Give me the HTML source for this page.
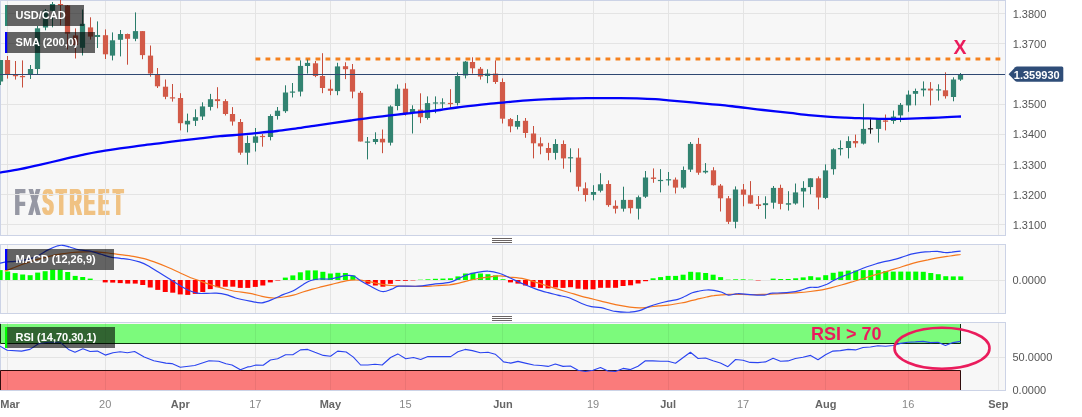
<!DOCTYPE html>
<html lang="en"><head><meta charset="utf-8"><title>USD/CAD</title>
<style>html,body{margin:0;padding:0;background:#fff;}body{width:1082px;height:417px;overflow:hidden;font-family:"Liberation Sans",Arial,sans-serif;}svg{display:block;}text{font-family:"Liberation Sans",Arial,sans-serif;}</style></head><body>
<svg width="1082" height="417" viewBox="0 0 1082 417">
<rect x="0" y="0" width="1082" height="417" fill="#ffffff"/>
<rect x="0.5" y="0.5" width="1005" height="235" fill="#f7f7f7" stroke="#ccd3e6" stroke-width="1"/>
<rect x="0.5" y="244.5" width="1005" height="69" fill="#f7f7f7" stroke="#ccd3e6" stroke-width="1"/>
<rect x="0.5" y="322.5" width="1005" height="68" fill="#f7f7f7" stroke="#ccd3e6" stroke-width="1"/>
<defs><filter id="fat" x="-5%" y="-5%" width="110%" height="110%"><feMorphology operator="dilate" radius="1 0"/></filter></defs>
<g filter="url(#fat)"><text transform="translate(0,215.4) scale(0.435,1)" x="34.38 66.77 97.88 129.31 160.26 193.14 226.13 260.23" y="0" font-size="37.6" font-weight="bold"><tspan fill="#9698a4">FX</tspan><tspan fill="#f0c283">STREET</tspan></text></g>
<line x1="7.5" y1="1" x2="7.5" y2="235" stroke="#e4e4e4" stroke-width="1"/>
<line x1="105.5" y1="1" x2="105.5" y2="235" stroke="#e4e4e4" stroke-width="1"/>
<line x1="180.5" y1="1" x2="180.5" y2="235" stroke="#e4e4e4" stroke-width="1"/>
<line x1="255.5" y1="1" x2="255.5" y2="235" stroke="#e4e4e4" stroke-width="1"/>
<line x1="330.5" y1="1" x2="330.5" y2="235" stroke="#e4e4e4" stroke-width="1"/>
<line x1="405.5" y1="1" x2="405.5" y2="235" stroke="#e4e4e4" stroke-width="1"/>
<line x1="502.5" y1="1" x2="502.5" y2="235" stroke="#e4e4e4" stroke-width="1"/>
<line x1="593.5" y1="1" x2="593.5" y2="235" stroke="#e4e4e4" stroke-width="1"/>
<line x1="668.5" y1="1" x2="668.5" y2="235" stroke="#e4e4e4" stroke-width="1"/>
<line x1="743.5" y1="1" x2="743.5" y2="235" stroke="#e4e4e4" stroke-width="1"/>
<line x1="825.5" y1="1" x2="825.5" y2="235" stroke="#e4e4e4" stroke-width="1"/>
<line x1="908.5" y1="1" x2="908.5" y2="235" stroke="#e4e4e4" stroke-width="1"/>
<line x1="998.5" y1="1" x2="998.5" y2="235" stroke="#e4e4e4" stroke-width="1"/>
<line x1="7.5" y1="245" x2="7.5" y2="313" stroke="#e4e4e4" stroke-width="1"/>
<line x1="105.5" y1="245" x2="105.5" y2="313" stroke="#e4e4e4" stroke-width="1"/>
<line x1="180.5" y1="245" x2="180.5" y2="313" stroke="#e4e4e4" stroke-width="1"/>
<line x1="255.5" y1="245" x2="255.5" y2="313" stroke="#e4e4e4" stroke-width="1"/>
<line x1="330.5" y1="245" x2="330.5" y2="313" stroke="#e4e4e4" stroke-width="1"/>
<line x1="405.5" y1="245" x2="405.5" y2="313" stroke="#e4e4e4" stroke-width="1"/>
<line x1="502.5" y1="245" x2="502.5" y2="313" stroke="#e4e4e4" stroke-width="1"/>
<line x1="593.5" y1="245" x2="593.5" y2="313" stroke="#e4e4e4" stroke-width="1"/>
<line x1="668.5" y1="245" x2="668.5" y2="313" stroke="#e4e4e4" stroke-width="1"/>
<line x1="743.5" y1="245" x2="743.5" y2="313" stroke="#e4e4e4" stroke-width="1"/>
<line x1="825.5" y1="245" x2="825.5" y2="313" stroke="#e4e4e4" stroke-width="1"/>
<line x1="908.5" y1="245" x2="908.5" y2="313" stroke="#e4e4e4" stroke-width="1"/>
<line x1="998.5" y1="245" x2="998.5" y2="313" stroke="#e4e4e4" stroke-width="1"/>
<line x1="7.5" y1="323" x2="7.5" y2="390" stroke="#e4e4e4" stroke-width="1"/>
<line x1="105.5" y1="323" x2="105.5" y2="390" stroke="#e4e4e4" stroke-width="1"/>
<line x1="180.5" y1="323" x2="180.5" y2="390" stroke="#e4e4e4" stroke-width="1"/>
<line x1="255.5" y1="323" x2="255.5" y2="390" stroke="#e4e4e4" stroke-width="1"/>
<line x1="330.5" y1="323" x2="330.5" y2="390" stroke="#e4e4e4" stroke-width="1"/>
<line x1="405.5" y1="323" x2="405.5" y2="390" stroke="#e4e4e4" stroke-width="1"/>
<line x1="502.5" y1="323" x2="502.5" y2="390" stroke="#e4e4e4" stroke-width="1"/>
<line x1="593.5" y1="323" x2="593.5" y2="390" stroke="#e4e4e4" stroke-width="1"/>
<line x1="668.5" y1="323" x2="668.5" y2="390" stroke="#e4e4e4" stroke-width="1"/>
<line x1="743.5" y1="323" x2="743.5" y2="390" stroke="#e4e4e4" stroke-width="1"/>
<line x1="825.5" y1="323" x2="825.5" y2="390" stroke="#e4e4e4" stroke-width="1"/>
<line x1="908.5" y1="323" x2="908.5" y2="390" stroke="#e4e4e4" stroke-width="1"/>
<line x1="998.5" y1="323" x2="998.5" y2="390" stroke="#e4e4e4" stroke-width="1"/>
<line x1="1" y1="13.5" x2="1005" y2="13.5" stroke="#e4e4e4" stroke-width="1"/>
<line x1="1" y1="43.5" x2="1005" y2="43.5" stroke="#e4e4e4" stroke-width="1"/>
<line x1="1" y1="74.5" x2="1005" y2="74.5" stroke="#e4e4e4" stroke-width="1"/>
<line x1="1" y1="104.5" x2="1005" y2="104.5" stroke="#e4e4e4" stroke-width="1"/>
<line x1="1" y1="134.5" x2="1005" y2="134.5" stroke="#e4e4e4" stroke-width="1"/>
<line x1="1" y1="164.5" x2="1005" y2="164.5" stroke="#e4e4e4" stroke-width="1"/>
<line x1="1" y1="194.5" x2="1005" y2="194.5" stroke="#e4e4e4" stroke-width="1"/>
<line x1="1" y1="224.5" x2="1005" y2="224.5" stroke="#e4e4e4" stroke-width="1"/>
<line x1="1" y1="280.5" x2="1005" y2="280.5" stroke="#e4e4e4" stroke-width="1"/>
<line x1="1" y1="357.5" x2="1005" y2="357.5" stroke="#e4e4e4" stroke-width="1"/>
<rect x="0" y="324" width="961.0" height="19.5" fill="#7cfa7c"/>
<rect x="0" y="370.5" width="961.0" height="19.5" fill="#fa7b7b"/>
<path d="M0.5,324 V343.5 H960.5 V324" fill="none" stroke="#0c300c" stroke-width="1"/>
<path d="M0.5,390 V370.5 H960.5 V390" fill="none" stroke="#300c0c" stroke-width="1"/>
<line x1="7.5" y1="324" x2="7.5" y2="343" stroke="#000" stroke-opacity="0.06" stroke-width="1"/>
<line x1="7.5" y1="371" x2="7.5" y2="390" stroke="#000" stroke-opacity="0.06" stroke-width="1"/>
<line x1="105.5" y1="324" x2="105.5" y2="343" stroke="#000" stroke-opacity="0.06" stroke-width="1"/>
<line x1="105.5" y1="371" x2="105.5" y2="390" stroke="#000" stroke-opacity="0.06" stroke-width="1"/>
<line x1="180.5" y1="324" x2="180.5" y2="343" stroke="#000" stroke-opacity="0.06" stroke-width="1"/>
<line x1="180.5" y1="371" x2="180.5" y2="390" stroke="#000" stroke-opacity="0.06" stroke-width="1"/>
<line x1="255.5" y1="324" x2="255.5" y2="343" stroke="#000" stroke-opacity="0.06" stroke-width="1"/>
<line x1="255.5" y1="371" x2="255.5" y2="390" stroke="#000" stroke-opacity="0.06" stroke-width="1"/>
<line x1="330.5" y1="324" x2="330.5" y2="343" stroke="#000" stroke-opacity="0.06" stroke-width="1"/>
<line x1="330.5" y1="371" x2="330.5" y2="390" stroke="#000" stroke-opacity="0.06" stroke-width="1"/>
<line x1="405.5" y1="324" x2="405.5" y2="343" stroke="#000" stroke-opacity="0.06" stroke-width="1"/>
<line x1="405.5" y1="371" x2="405.5" y2="390" stroke="#000" stroke-opacity="0.06" stroke-width="1"/>
<line x1="502.5" y1="324" x2="502.5" y2="343" stroke="#000" stroke-opacity="0.06" stroke-width="1"/>
<line x1="502.5" y1="371" x2="502.5" y2="390" stroke="#000" stroke-opacity="0.06" stroke-width="1"/>
<line x1="593.5" y1="324" x2="593.5" y2="343" stroke="#000" stroke-opacity="0.06" stroke-width="1"/>
<line x1="593.5" y1="371" x2="593.5" y2="390" stroke="#000" stroke-opacity="0.06" stroke-width="1"/>
<line x1="668.5" y1="324" x2="668.5" y2="343" stroke="#000" stroke-opacity="0.06" stroke-width="1"/>
<line x1="668.5" y1="371" x2="668.5" y2="390" stroke="#000" stroke-opacity="0.06" stroke-width="1"/>
<line x1="743.5" y1="324" x2="743.5" y2="343" stroke="#000" stroke-opacity="0.06" stroke-width="1"/>
<line x1="743.5" y1="371" x2="743.5" y2="390" stroke="#000" stroke-opacity="0.06" stroke-width="1"/>
<line x1="825.5" y1="324" x2="825.5" y2="343" stroke="#000" stroke-opacity="0.06" stroke-width="1"/>
<line x1="825.5" y1="371" x2="825.5" y2="390" stroke="#000" stroke-opacity="0.06" stroke-width="1"/>
<line x1="908.5" y1="324" x2="908.5" y2="343" stroke="#000" stroke-opacity="0.06" stroke-width="1"/>
<line x1="908.5" y1="371" x2="908.5" y2="390" stroke="#000" stroke-opacity="0.06" stroke-width="1"/>
<path d="M255.5,59 h4.8 M265.5,59 h4.8 M275.5,59 h4.8 M285.5,59 h4.8 M295.5,59 h4.8 M305.5,59 h4.8 M315.5,59 h4.8 M325.5,59 h4.8 M335.5,59 h4.8 M345.5,59 h4.8 M355.5,59 h4.8 M365.5,59 h4.8 M375.5,59 h4.8 M385.5,59 h4.8 M395.5,59 h4.8 M405.5,59 h4.8 M415.5,59 h4.8 M425.5,59 h4.8 M435.5,59 h4.8 M445.5,59 h4.8 M455.5,59 h4.8 M465.5,59 h4.8 M475.5,59 h4.8 M485.5,59 h4.8 M495.5,59 h4.8 M505.5,59 h4.8 M515.5,59 h4.8 M525.5,59 h4.8 M535.5,59 h4.8 M545.5,59 h4.8 M555.5,59 h4.8 M565.5,59 h4.8 M575.5,59 h4.8 M585.5,59 h4.8 M595.5,59 h4.8 M605.5,59 h4.8 M615.5,59 h4.8 M625.5,59 h4.8 M635.5,59 h4.8 M645.5,59 h4.8 M655.5,59 h4.8 M665.5,59 h4.8 M675.5,59 h4.8 M685.5,59 h4.8 M695.5,59 h4.8 M705.5,59 h4.8 M715.5,59 h4.8 M725.5,59 h4.8 M735.5,59 h4.8 M745.5,59 h4.8 M755.5,59 h4.8 M765.5,59 h4.8 M775.5,59 h4.8 M785.5,59 h4.8 M795.5,59 h4.8 M805.5,59 h4.8 M815.5,59 h4.8 M825.5,59 h4.8 M835.5,59 h4.8 M845.5,59 h4.8 M855.5,59 h4.8 M865.5,59 h4.8 M875.5,59 h4.8 M885.5,59 h4.8 M895.5,59 h4.8 M905.5,59 h4.8 M915.5,59 h4.8 M925.5,59 h4.8 M935.5,59 h4.8 M945.5,59 h4.8 M955.5,59 h4.8 M965.5,59 h4.8 M975.5,59 h4.8 M985.5,59 h4.8 M995.5,59 h4.8" stroke="#f5821f" stroke-width="3.2" fill="none"/>
<line x1="0.5" y1="60.0" x2="0.5" y2="85.0" stroke="#2a7c6a" stroke-width="1"/>
<rect x="-2.10" y="60.0" width="5.2" height="21.5" fill="#328371"/>
<line x1="7.5" y1="56.0" x2="7.5" y2="78.6" stroke="#c84e3c" stroke-width="1"/>
<rect x="4.90" y="60.0" width="5.2" height="14.0" fill="#d25a48"/>
<line x1="15.5" y1="61.0" x2="15.5" y2="79.6" stroke="#c84e3c" stroke-width="1"/>
<rect x="12.90" y="75.0" width="5.2" height="1.2" fill="#d25a48"/>
<line x1="22.5" y1="60.4" x2="22.5" y2="87.5" stroke="#c84e3c" stroke-width="1"/>
<rect x="19.90" y="76.0" width="5.2" height="1.2" fill="#d25a48"/>
<line x1="30.5" y1="65.0" x2="30.5" y2="79.0" stroke="#2a7c6a" stroke-width="1"/>
<rect x="27.90" y="69.0" width="5.2" height="5.0" fill="#328371"/>
<line x1="37.5" y1="26.0" x2="37.5" y2="74.0" stroke="#2a7c6a" stroke-width="1"/>
<rect x="34.90" y="28.3" width="5.2" height="40.7" fill="#328371"/>
<line x1="45.5" y1="9.0" x2="45.5" y2="30.3" stroke="#2a7c6a" stroke-width="1"/>
<rect x="42.90" y="10.5" width="5.2" height="17.0" fill="#328371"/>
<line x1="52.5" y1="2.0" x2="52.5" y2="27.3" stroke="#2a7c6a" stroke-width="1"/>
<rect x="49.90" y="4.0" width="5.2" height="6.8" fill="#328371"/>
<line x1="60.5" y1="0.0" x2="60.5" y2="25.3" stroke="#c84e3c" stroke-width="1"/>
<rect x="57.90" y="4.0" width="5.2" height="1.2" fill="#d25a48"/>
<line x1="67.5" y1="5.0" x2="67.5" y2="49.5" stroke="#c84e3c" stroke-width="1"/>
<rect x="64.90" y="5.5" width="5.2" height="28.2" fill="#d25a48"/>
<line x1="75.5" y1="28.4" x2="75.5" y2="58.5" stroke="#c84e3c" stroke-width="1"/>
<rect x="72.90" y="35.4" width="5.2" height="9.6" fill="#d25a48"/>
<line x1="82.5" y1="9.5" x2="82.5" y2="55.5" stroke="#2a7c6a" stroke-width="1"/>
<rect x="79.90" y="23.8" width="5.2" height="24.0" fill="#328371"/>
<line x1="90.5" y1="17.3" x2="90.5" y2="39.6" stroke="#c84e3c" stroke-width="1"/>
<rect x="87.90" y="27.4" width="5.2" height="9.2" fill="#d25a48"/>
<line x1="97.5" y1="21.4" x2="97.5" y2="48.0" stroke="#2a7c6a" stroke-width="1"/>
<rect x="94.90" y="35.0" width="5.2" height="2.0" fill="#328371"/>
<line x1="105.5" y1="29.4" x2="105.5" y2="59.0" stroke="#c84e3c" stroke-width="1"/>
<rect x="102.90" y="35.2" width="5.2" height="19.1" fill="#d25a48"/>
<line x1="112.5" y1="32.4" x2="112.5" y2="60.4" stroke="#2a7c6a" stroke-width="1"/>
<rect x="109.90" y="40.3" width="5.2" height="15.3" fill="#328371"/>
<line x1="120.5" y1="30.0" x2="120.5" y2="56.4" stroke="#2a7c6a" stroke-width="1"/>
<rect x="117.90" y="34.0" width="5.2" height="5.8" fill="#328371"/>
<line x1="127.5" y1="33.6" x2="127.5" y2="64.7" stroke="#c84e3c" stroke-width="1"/>
<rect x="124.90" y="34.0" width="5.2" height="4.8" fill="#d25a48"/>
<line x1="135.5" y1="12.4" x2="135.5" y2="41.2" stroke="#2a7c6a" stroke-width="1"/>
<rect x="132.90" y="31.1" width="5.2" height="7.7" fill="#328371"/>
<line x1="142.5" y1="31.0" x2="142.5" y2="59.2" stroke="#c84e3c" stroke-width="1"/>
<rect x="139.90" y="31.1" width="5.2" height="24.0" fill="#d25a48"/>
<line x1="150.5" y1="45.5" x2="150.5" y2="76.7" stroke="#c84e3c" stroke-width="1"/>
<rect x="147.90" y="55.6" width="5.2" height="17.9" fill="#d25a48"/>
<line x1="157.5" y1="68.0" x2="157.5" y2="88.0" stroke="#c84e3c" stroke-width="1"/>
<rect x="154.90" y="74.7" width="5.2" height="11.6" fill="#d25a48"/>
<line x1="165.5" y1="79.5" x2="165.5" y2="99.2" stroke="#c84e3c" stroke-width="1"/>
<rect x="162.90" y="86.7" width="5.2" height="10.1" fill="#d25a48"/>
<line x1="172.5" y1="84.0" x2="172.5" y2="101.6" stroke="#c84e3c" stroke-width="1"/>
<rect x="169.90" y="97.3" width="5.2" height="1.2" fill="#d25a48"/>
<line x1="180.5" y1="93.2" x2="180.5" y2="130.4" stroke="#c84e3c" stroke-width="1"/>
<rect x="177.90" y="98.0" width="5.2" height="25.2" fill="#d25a48"/>
<line x1="187.5" y1="113.6" x2="187.5" y2="132.3" stroke="#2a7c6a" stroke-width="1"/>
<rect x="184.90" y="120.8" width="5.2" height="3.6" fill="#328371"/>
<line x1="195.5" y1="109.3" x2="195.5" y2="126.0" stroke="#2a7c6a" stroke-width="1"/>
<rect x="192.90" y="117.2" width="5.2" height="3.6" fill="#328371"/>
<line x1="202.5" y1="102.3" x2="202.5" y2="120.0" stroke="#2a7c6a" stroke-width="1"/>
<rect x="199.90" y="106.4" width="5.2" height="10.1" fill="#328371"/>
<line x1="210.5" y1="93.9" x2="210.5" y2="110.5" stroke="#2a7c6a" stroke-width="1"/>
<rect x="207.90" y="99.2" width="5.2" height="7.7" fill="#328371"/>
<line x1="217.5" y1="87.2" x2="217.5" y2="108.3" stroke="#c84e3c" stroke-width="1"/>
<rect x="214.90" y="99.2" width="5.2" height="1.9" fill="#d25a48"/>
<line x1="225.5" y1="99.2" x2="225.5" y2="115.5" stroke="#c84e3c" stroke-width="1"/>
<rect x="222.90" y="101.1" width="5.2" height="12.9" fill="#d25a48"/>
<line x1="232.5" y1="107.1" x2="232.5" y2="125.6" stroke="#c84e3c" stroke-width="1"/>
<rect x="229.90" y="114.0" width="5.2" height="7.5" fill="#d25a48"/>
<line x1="240.5" y1="119.0" x2="240.5" y2="154.8" stroke="#c84e3c" stroke-width="1"/>
<rect x="237.90" y="122.0" width="5.2" height="30.7" fill="#d25a48"/>
<line x1="247.5" y1="135.6" x2="247.5" y2="164.7" stroke="#2a7c6a" stroke-width="1"/>
<rect x="244.90" y="143.0" width="5.2" height="9.7" fill="#328371"/>
<line x1="255.5" y1="128.0" x2="255.5" y2="151.5" stroke="#2a7c6a" stroke-width="1"/>
<rect x="252.90" y="136.4" width="5.2" height="6.4" fill="#328371"/>
<line x1="262.5" y1="134.0" x2="262.5" y2="146.7" stroke="#c84e3c" stroke-width="1"/>
<rect x="259.90" y="135.9" width="5.2" height="1.2" fill="#d25a48"/>
<line x1="270.5" y1="114.3" x2="270.5" y2="140.4" stroke="#2a7c6a" stroke-width="1"/>
<rect x="267.90" y="116.0" width="5.2" height="21.0" fill="#328371"/>
<line x1="277.5" y1="107.0" x2="277.5" y2="119.6" stroke="#2a7c6a" stroke-width="1"/>
<rect x="274.90" y="110.7" width="5.2" height="5.3" fill="#328371"/>
<line x1="285.5" y1="85.3" x2="285.5" y2="112.9" stroke="#2a7c6a" stroke-width="1"/>
<rect x="282.90" y="92.5" width="5.2" height="18.7" fill="#328371"/>
<line x1="292.5" y1="83.0" x2="292.5" y2="97.5" stroke="#2a7c6a" stroke-width="1"/>
<rect x="289.90" y="91.5" width="5.2" height="1.2" fill="#328371"/>
<line x1="300.5" y1="60.4" x2="300.5" y2="96.4" stroke="#2a7c6a" stroke-width="1"/>
<rect x="297.90" y="65.9" width="5.2" height="25.7" fill="#328371"/>
<line x1="307.5" y1="59.6" x2="307.5" y2="73.6" stroke="#2a7c6a" stroke-width="1"/>
<rect x="304.90" y="62.9" width="5.2" height="3.1" fill="#328371"/>
<line x1="315.5" y1="61.0" x2="315.5" y2="77.2" stroke="#c84e3c" stroke-width="1"/>
<rect x="312.90" y="63.3" width="5.2" height="12.7" fill="#d25a48"/>
<line x1="322.5" y1="53.2" x2="322.5" y2="93.2" stroke="#c84e3c" stroke-width="1"/>
<rect x="319.90" y="76.0" width="5.2" height="12.0" fill="#d25a48"/>
<line x1="330.5" y1="79.6" x2="330.5" y2="95.2" stroke="#c84e3c" stroke-width="1"/>
<rect x="327.90" y="88.7" width="5.2" height="2.1" fill="#d25a48"/>
<line x1="337.5" y1="62.8" x2="337.5" y2="95.2" stroke="#2a7c6a" stroke-width="1"/>
<rect x="334.90" y="66.4" width="5.2" height="24.7" fill="#328371"/>
<line x1="345.5" y1="62.3" x2="345.5" y2="79.1" stroke="#c84e3c" stroke-width="1"/>
<rect x="342.90" y="66.2" width="5.2" height="3.0" fill="#d25a48"/>
<line x1="352.5" y1="64.0" x2="352.5" y2="98.3" stroke="#c84e3c" stroke-width="1"/>
<rect x="349.90" y="69.3" width="5.2" height="22.3" fill="#d25a48"/>
<line x1="360.5" y1="91.0" x2="360.5" y2="141.5" stroke="#c84e3c" stroke-width="1"/>
<rect x="357.90" y="92.8" width="5.2" height="48.7" fill="#d25a48"/>
<line x1="367.5" y1="137.0" x2="367.5" y2="159.4" stroke="#2a7c6a" stroke-width="1"/>
<rect x="364.90" y="141.5" width="5.2" height="1.2" fill="#328371"/>
<line x1="375.5" y1="132.3" x2="375.5" y2="144.3" stroke="#2a7c6a" stroke-width="1"/>
<rect x="372.90" y="139.0" width="5.2" height="3.0" fill="#328371"/>
<line x1="382.5" y1="129.5" x2="382.5" y2="153.2" stroke="#c84e3c" stroke-width="1"/>
<rect x="379.90" y="138.8" width="5.2" height="3.6" fill="#d25a48"/>
<line x1="390.5" y1="105.3" x2="390.5" y2="145.5" stroke="#2a7c6a" stroke-width="1"/>
<rect x="387.90" y="106.5" width="5.2" height="36.2" fill="#328371"/>
<line x1="397.5" y1="84.4" x2="397.5" y2="110.3" stroke="#2a7c6a" stroke-width="1"/>
<rect x="394.90" y="88.7" width="5.2" height="17.3" fill="#328371"/>
<line x1="405.5" y1="83.2" x2="405.5" y2="115.6" stroke="#c84e3c" stroke-width="1"/>
<rect x="402.90" y="88.7" width="5.2" height="25.2" fill="#d25a48"/>
<line x1="412.5" y1="105.3" x2="412.5" y2="133.5" stroke="#2a7c6a" stroke-width="1"/>
<rect x="409.90" y="109.0" width="5.2" height="4.2" fill="#328371"/>
<line x1="420.5" y1="93.3" x2="420.5" y2="123.2" stroke="#c84e3c" stroke-width="1"/>
<rect x="417.90" y="109.6" width="5.2" height="7.6" fill="#d25a48"/>
<line x1="427.5" y1="96.4" x2="427.5" y2="119.6" stroke="#2a7c6a" stroke-width="1"/>
<rect x="424.90" y="103.1" width="5.2" height="14.9" fill="#328371"/>
<line x1="435.5" y1="96.4" x2="435.5" y2="113.2" stroke="#2a7c6a" stroke-width="1"/>
<rect x="432.90" y="102.4" width="5.2" height="1.2" fill="#328371"/>
<line x1="442.5" y1="98.3" x2="442.5" y2="108.4" stroke="#2a7c6a" stroke-width="1"/>
<rect x="439.90" y="102.4" width="5.2" height="1.2" fill="#328371"/>
<line x1="450.5" y1="89.2" x2="450.5" y2="107.9" stroke="#c84e3c" stroke-width="1"/>
<rect x="447.90" y="102.9" width="5.2" height="1.2" fill="#d25a48"/>
<line x1="457.5" y1="72.4" x2="457.5" y2="105.5" stroke="#2a7c6a" stroke-width="1"/>
<rect x="454.90" y="76.0" width="5.2" height="27.1" fill="#328371"/>
<line x1="465.5" y1="61.0" x2="465.5" y2="78.4" stroke="#2a7c6a" stroke-width="1"/>
<rect x="462.90" y="61.6" width="5.2" height="13.9" fill="#328371"/>
<line x1="472.5" y1="57.3" x2="472.5" y2="73.6" stroke="#c84e3c" stroke-width="1"/>
<rect x="469.90" y="62.0" width="5.2" height="6.3" fill="#d25a48"/>
<line x1="480.5" y1="67.0" x2="480.5" y2="79.6" stroke="#c84e3c" stroke-width="1"/>
<rect x="477.90" y="68.8" width="5.2" height="7.7" fill="#d25a48"/>
<line x1="487.5" y1="69.3" x2="487.5" y2="83.2" stroke="#2a7c6a" stroke-width="1"/>
<rect x="484.90" y="73.6" width="5.2" height="2.4" fill="#328371"/>
<line x1="495.5" y1="60.4" x2="495.5" y2="83.9" stroke="#c84e3c" stroke-width="1"/>
<rect x="492.90" y="73.6" width="5.2" height="8.4" fill="#d25a48"/>
<line x1="502.5" y1="78.4" x2="502.5" y2="123.5" stroke="#c84e3c" stroke-width="1"/>
<rect x="499.90" y="82.0" width="5.2" height="36.7" fill="#d25a48"/>
<line x1="510.5" y1="118.0" x2="510.5" y2="132.3" stroke="#c84e3c" stroke-width="1"/>
<rect x="507.90" y="119.1" width="5.2" height="7.2" fill="#d25a48"/>
<line x1="517.5" y1="115.0" x2="517.5" y2="129.4" stroke="#2a7c6a" stroke-width="1"/>
<rect x="514.90" y="121.0" width="5.2" height="5.8" fill="#328371"/>
<line x1="525.5" y1="118.0" x2="525.5" y2="137.8" stroke="#c84e3c" stroke-width="1"/>
<rect x="522.90" y="120.8" width="5.2" height="12.2" fill="#d25a48"/>
<line x1="533.5" y1="126.0" x2="533.5" y2="158.4" stroke="#c84e3c" stroke-width="1"/>
<rect x="530.90" y="133.5" width="5.2" height="9.8" fill="#d25a48"/>
<line x1="540.5" y1="137.3" x2="540.5" y2="154.3" stroke="#c84e3c" stroke-width="1"/>
<rect x="537.90" y="143.3" width="5.2" height="3.1" fill="#d25a48"/>
<line x1="548.5" y1="142.8" x2="548.5" y2="160.3" stroke="#c84e3c" stroke-width="1"/>
<rect x="545.90" y="148.0" width="5.2" height="4.9" fill="#d25a48"/>
<line x1="555.5" y1="139.2" x2="555.5" y2="159.6" stroke="#2a7c6a" stroke-width="1"/>
<rect x="552.90" y="144.0" width="5.2" height="8.9" fill="#328371"/>
<line x1="563.5" y1="140.4" x2="563.5" y2="168.7" stroke="#c84e3c" stroke-width="1"/>
<rect x="560.90" y="144.0" width="5.2" height="14.4" fill="#d25a48"/>
<line x1="570.5" y1="148.3" x2="570.5" y2="172.3" stroke="#2a7c6a" stroke-width="1"/>
<rect x="567.90" y="157.2" width="5.2" height="1.2" fill="#328371"/>
<line x1="578.5" y1="148.3" x2="578.5" y2="191.2" stroke="#c84e3c" stroke-width="1"/>
<rect x="575.90" y="157.6" width="5.2" height="29.1" fill="#d25a48"/>
<line x1="585.5" y1="182.4" x2="585.5" y2="201.5" stroke="#c84e3c" stroke-width="1"/>
<rect x="582.90" y="188.3" width="5.2" height="6.7" fill="#d25a48"/>
<line x1="593.5" y1="185.2" x2="593.5" y2="200.3" stroke="#2a7c6a" stroke-width="1"/>
<rect x="590.90" y="192.0" width="5.2" height="2.8" fill="#328371"/>
<line x1="600.5" y1="173.2" x2="600.5" y2="192.4" stroke="#2a7c6a" stroke-width="1"/>
<rect x="597.90" y="184.3" width="5.2" height="6.4" fill="#328371"/>
<line x1="608.5" y1="180.4" x2="608.5" y2="206.8" stroke="#c84e3c" stroke-width="1"/>
<rect x="605.90" y="184.0" width="5.2" height="21.1" fill="#d25a48"/>
<line x1="615.5" y1="200.3" x2="615.5" y2="213.5" stroke="#c84e3c" stroke-width="1"/>
<rect x="612.90" y="205.8" width="5.2" height="2.9" fill="#d25a48"/>
<line x1="623.5" y1="186.7" x2="623.5" y2="211.6" stroke="#2a7c6a" stroke-width="1"/>
<rect x="620.90" y="199.9" width="5.2" height="8.8" fill="#328371"/>
<line x1="630.5" y1="199.9" x2="630.5" y2="213.5" stroke="#c84e3c" stroke-width="1"/>
<rect x="627.90" y="199.9" width="5.2" height="8.3" fill="#d25a48"/>
<line x1="638.5" y1="195.5" x2="638.5" y2="219.5" stroke="#2a7c6a" stroke-width="1"/>
<rect x="635.90" y="197.2" width="5.2" height="11.5" fill="#328371"/>
<line x1="645.5" y1="171.0" x2="645.5" y2="198.0" stroke="#2a7c6a" stroke-width="1"/>
<rect x="642.90" y="177.5" width="5.2" height="19.2" fill="#328371"/>
<line x1="653.5" y1="168.4" x2="653.5" y2="182.8" stroke="#c84e3c" stroke-width="1"/>
<rect x="650.90" y="177.5" width="5.2" height="1.4" fill="#d25a48"/>
<line x1="660.5" y1="169.1" x2="660.5" y2="192.4" stroke="#2a7c6a" stroke-width="1"/>
<rect x="657.90" y="179.9" width="5.2" height="1.2" fill="#328371"/>
<line x1="668.5" y1="172.0" x2="668.5" y2="185.6" stroke="#2a7c6a" stroke-width="1"/>
<rect x="665.90" y="179.2" width="5.2" height="1.2" fill="#328371"/>
<line x1="675.5" y1="177.5" x2="675.5" y2="193.5" stroke="#c84e3c" stroke-width="1"/>
<rect x="672.90" y="179.6" width="5.2" height="8.0" fill="#d25a48"/>
<line x1="683.5" y1="166.5" x2="683.5" y2="188.8" stroke="#2a7c6a" stroke-width="1"/>
<rect x="680.90" y="170.0" width="5.2" height="17.6" fill="#328371"/>
<line x1="690.5" y1="142.0" x2="690.5" y2="172.0" stroke="#2a7c6a" stroke-width="1"/>
<rect x="687.90" y="143.9" width="5.2" height="25.7" fill="#328371"/>
<line x1="698.5" y1="137.9" x2="698.5" y2="174.8" stroke="#c84e3c" stroke-width="1"/>
<rect x="695.90" y="143.9" width="5.2" height="28.8" fill="#d25a48"/>
<line x1="705.5" y1="163.1" x2="705.5" y2="173.6" stroke="#2a7c6a" stroke-width="1"/>
<rect x="702.90" y="170.8" width="5.2" height="1.6" fill="#328371"/>
<line x1="713.5" y1="167.2" x2="713.5" y2="185.6" stroke="#c84e3c" stroke-width="1"/>
<rect x="710.90" y="170.3" width="5.2" height="14.9" fill="#d25a48"/>
<line x1="720.5" y1="184.0" x2="720.5" y2="211.5" stroke="#c84e3c" stroke-width="1"/>
<rect x="717.90" y="185.6" width="5.2" height="12.7" fill="#d25a48"/>
<line x1="728.5" y1="196.0" x2="728.5" y2="224.0" stroke="#c84e3c" stroke-width="1"/>
<rect x="725.90" y="198.3" width="5.2" height="23.5" fill="#d25a48"/>
<line x1="735.5" y1="186.4" x2="735.5" y2="228.3" stroke="#2a7c6a" stroke-width="1"/>
<rect x="732.90" y="189.5" width="5.2" height="32.3" fill="#328371"/>
<line x1="743.5" y1="184.0" x2="743.5" y2="206.3" stroke="#c84e3c" stroke-width="1"/>
<rect x="740.90" y="189.5" width="5.2" height="5.2" fill="#d25a48"/>
<line x1="750.5" y1="181.1" x2="750.5" y2="203.6" stroke="#c84e3c" stroke-width="1"/>
<rect x="747.90" y="195.2" width="5.2" height="8.4" fill="#d25a48"/>
<line x1="758.5" y1="196.0" x2="758.5" y2="209.1" stroke="#c84e3c" stroke-width="1"/>
<rect x="755.90" y="204.3" width="5.2" height="1.7" fill="#d25a48"/>
<line x1="765.5" y1="196.3" x2="765.5" y2="218.8" stroke="#2a7c6a" stroke-width="1"/>
<rect x="762.90" y="203.2" width="5.2" height="1.9" fill="#328371"/>
<line x1="773.5" y1="186.0" x2="773.5" y2="208.7" stroke="#2a7c6a" stroke-width="1"/>
<rect x="770.90" y="187.9" width="5.2" height="14.8" fill="#328371"/>
<line x1="780.5" y1="184.7" x2="780.5" y2="209.4" stroke="#c84e3c" stroke-width="1"/>
<rect x="777.90" y="187.9" width="5.2" height="16.0" fill="#d25a48"/>
<line x1="788.5" y1="191.2" x2="788.5" y2="210.6" stroke="#2a7c6a" stroke-width="1"/>
<rect x="785.90" y="203.2" width="5.2" height="1.5" fill="#328371"/>
<line x1="795.5" y1="183.5" x2="795.5" y2="204.7" stroke="#2a7c6a" stroke-width="1"/>
<rect x="792.90" y="192.4" width="5.2" height="11.1" fill="#328371"/>
<line x1="803.5" y1="181.2" x2="803.5" y2="207.5" stroke="#2a7c6a" stroke-width="1"/>
<rect x="800.90" y="187.9" width="5.2" height="3.6" fill="#328371"/>
<line x1="810.5" y1="178.3" x2="810.5" y2="194.3" stroke="#2a7c6a" stroke-width="1"/>
<rect x="807.90" y="178.3" width="5.2" height="8.8" fill="#328371"/>
<line x1="818.5" y1="176.4" x2="818.5" y2="209.4" stroke="#c84e3c" stroke-width="1"/>
<rect x="815.90" y="178.3" width="5.2" height="19.2" fill="#d25a48"/>
<line x1="825.5" y1="164.4" x2="825.5" y2="199.1" stroke="#2a7c6a" stroke-width="1"/>
<rect x="822.90" y="170.4" width="5.2" height="27.5" fill="#328371"/>
<line x1="833.5" y1="148.3" x2="833.5" y2="174.7" stroke="#2a7c6a" stroke-width="1"/>
<rect x="830.90" y="149.3" width="5.2" height="19.9" fill="#328371"/>
<line x1="840.5" y1="140.4" x2="840.5" y2="155.5" stroke="#2a7c6a" stroke-width="1"/>
<rect x="837.90" y="148.0" width="5.2" height="1.3" fill="#328371"/>
<line x1="848.5" y1="136.3" x2="848.5" y2="158.4" stroke="#2a7c6a" stroke-width="1"/>
<rect x="845.90" y="141.1" width="5.2" height="6.9" fill="#328371"/>
<line x1="855.5" y1="134.6" x2="855.5" y2="147.5" stroke="#c84e3c" stroke-width="1"/>
<rect x="852.90" y="141.0" width="5.2" height="2.3" fill="#d25a48"/>
<line x1="863.5" y1="103.7" x2="863.5" y2="144.5" stroke="#2a7c6a" stroke-width="1"/>
<rect x="860.90" y="128.9" width="5.2" height="14.7" fill="#328371"/>
<line x1="870.5" y1="117.8" x2="870.5" y2="133.7" stroke="#111" stroke-width="1"/>
<rect x="867.90" y="128.2" width="5.2" height="1.2" fill="#222"/>
<line x1="878.5" y1="118.0" x2="878.5" y2="142.6" stroke="#2a7c6a" stroke-width="1"/>
<rect x="875.90" y="118.5" width="5.2" height="10.4" fill="#328371"/>
<line x1="885.5" y1="114.5" x2="885.5" y2="130.4" stroke="#c84e3c" stroke-width="1"/>
<rect x="882.90" y="120.4" width="5.2" height="1.4" fill="#d25a48"/>
<line x1="893.5" y1="110.6" x2="893.5" y2="123.8" stroke="#2a7c6a" stroke-width="1"/>
<rect x="890.90" y="116.6" width="5.2" height="4.4" fill="#328371"/>
<line x1="900.5" y1="103.0" x2="900.5" y2="122.1" stroke="#2a7c6a" stroke-width="1"/>
<rect x="897.90" y="104.9" width="5.2" height="10.5" fill="#328371"/>
<line x1="908.5" y1="90.5" x2="908.5" y2="111.8" stroke="#2a7c6a" stroke-width="1"/>
<rect x="905.90" y="94.6" width="5.2" height="10.8" fill="#328371"/>
<line x1="915.5" y1="88.6" x2="915.5" y2="105.4" stroke="#2a7c6a" stroke-width="1"/>
<rect x="912.90" y="91.0" width="5.2" height="2.8" fill="#328371"/>
<line x1="923.5" y1="81.4" x2="923.5" y2="96.5" stroke="#2a7c6a" stroke-width="1"/>
<rect x="920.90" y="88.6" width="5.2" height="1.7" fill="#328371"/>
<line x1="930.5" y1="82.1" x2="930.5" y2="105.4" stroke="#c84e3c" stroke-width="1"/>
<rect x="927.90" y="88.6" width="5.2" height="1.9" fill="#d25a48"/>
<line x1="938.5" y1="84.3" x2="938.5" y2="100.6" stroke="#2a7c6a" stroke-width="1"/>
<rect x="935.90" y="89.3" width="5.2" height="1.2" fill="#328371"/>
<line x1="945.5" y1="72.3" x2="945.5" y2="98.6" stroke="#c84e3c" stroke-width="1"/>
<rect x="942.90" y="90.3" width="5.2" height="5.9" fill="#d25a48"/>
<line x1="953.5" y1="77.3" x2="953.5" y2="101.3" stroke="#2a7c6a" stroke-width="1"/>
<rect x="950.90" y="79.5" width="5.2" height="17.5" fill="#328371"/>
<line x1="960.5" y1="73.0" x2="960.5" y2="80.9" stroke="#2a7c6a" stroke-width="1"/>
<rect x="957.90" y="74.9" width="5.2" height="4.7" fill="#328371"/>
<line x1="0" y1="74.5" x2="1005" y2="74.5" stroke="#2e4872" stroke-width="1.2"/>
<path d="M0.0,172.6 C3.3,172.0 13.2,170.5 20.0,169.2 C26.8,167.9 33.9,166.3 40.7,164.7 C47.5,163.1 54.2,161.4 61.0,159.8 C67.8,158.2 75.2,156.5 81.3,155.2 C87.4,153.9 90.8,153.1 97.6,151.9 C104.4,150.7 114.5,149.3 122.0,148.2 C129.4,147.1 135.5,146.2 142.3,145.3 C149.1,144.4 156.4,143.6 162.7,142.8 C169.0,142.0 173.8,141.4 180.0,140.7 C186.2,139.9 193.3,139.1 200.0,138.3 C206.7,137.6 213.3,136.8 220.0,136.2 C226.7,135.6 233.6,135.2 240.0,134.7 C246.4,134.1 252.3,133.5 258.5,132.9 C264.7,132.3 270.8,131.7 277.0,131.0 C283.2,130.3 289.3,129.4 295.5,128.6 C301.7,127.8 307.9,126.8 314.0,125.9 C320.1,125.0 326.2,124.0 332.4,123.1 C338.5,122.2 344.7,121.4 350.9,120.5 C357.1,119.6 363.2,118.7 369.4,117.9 C375.6,117.1 381.7,116.4 387.9,115.7 C394.1,115.0 400.2,114.2 406.4,113.5 C412.5,112.8 419.2,112.2 424.8,111.6 C430.4,111.0 434.6,110.7 440.0,110.0 C445.4,109.3 451.1,108.3 457.0,107.5 C462.9,106.7 469.3,106.0 475.5,105.3 C481.7,104.6 487.9,103.9 494.0,103.3 C500.1,102.7 506.2,102.1 512.4,101.6 C518.5,101.1 524.7,100.6 530.9,100.2 C537.1,99.8 543.2,99.5 549.4,99.2 C555.6,98.9 561.7,98.7 567.9,98.5 C574.1,98.3 580.2,98.2 586.4,98.1 C592.5,98.0 599.2,98.1 604.8,98.1 C610.4,98.1 614.6,98.2 620.0,98.2 C625.4,98.2 631.1,98.2 637.0,98.4 C642.9,98.6 650.3,98.9 655.5,99.2 C660.7,99.5 663.8,100.0 668.4,100.4 C673.0,100.8 677.7,101.2 683.2,101.7 C688.8,102.2 695.6,102.8 701.7,103.3 C707.9,103.8 714.0,104.3 720.1,104.9 C726.2,105.5 732.4,106.3 738.6,107.0 C744.8,107.7 750.9,108.6 757.1,109.3 C763.3,110.0 770.1,110.8 775.6,111.4 C781.1,112.0 784.5,112.3 790.0,112.9 C795.5,113.5 802.3,114.5 808.5,115.1 C814.7,115.7 820.8,116.2 827.0,116.6 C833.2,117.0 839.4,117.3 845.5,117.6 C851.6,117.9 858.4,118.1 863.9,118.3 C869.4,118.5 873.8,118.7 878.7,118.8 C883.6,118.9 888.3,118.9 893.5,118.9 C898.7,118.9 904.2,118.9 910.1,118.7 C916.0,118.5 922.4,118.2 928.6,118.0 C934.8,117.8 941.7,117.5 947.1,117.2 C952.5,117.0 958.7,116.6 961.0,116.5" fill="none" stroke="#0202fa" stroke-width="2.3" stroke-linejoin="round"/>
<rect x="-2.35" y="270.1" width="5" height="9.9" fill="#00ff00"/>
<rect x="5.15" y="271.5" width="5" height="8.5" fill="#00ff00"/>
<rect x="12.66" y="273.1" width="5" height="6.9" fill="#00ff00"/>
<rect x="20.16" y="274.5" width="5" height="5.5" fill="#00ff00"/>
<rect x="27.66" y="275.2" width="5" height="4.8" fill="#00ff00"/>
<rect x="35.17" y="272.6" width="5" height="7.4" fill="#00ff00"/>
<rect x="42.67" y="271.2" width="5" height="8.8" fill="#00ff00"/>
<rect x="50.18" y="269.7" width="5" height="10.3" fill="#00ff00"/>
<rect x="57.68" y="269.7" width="5" height="10.3" fill="#00ff00"/>
<rect x="65.19" y="272.0" width="5" height="8.0" fill="#00ff00"/>
<rect x="72.70" y="275.9" width="5" height="4.1" fill="#00ff00"/>
<rect x="80.20" y="277.0" width="5" height="3.0" fill="#00ff00"/>
<rect x="87.70" y="278.6" width="5" height="1.4" fill="#00ff00"/>
<rect x="102.72" y="280" width="5" height="2.4" fill="#ff0000"/>
<rect x="110.22" y="280" width="5" height="2.6" fill="#ff0000"/>
<rect x="117.73" y="280" width="5" height="3.1" fill="#ff0000"/>
<rect x="125.23" y="280" width="5" height="3.6" fill="#ff0000"/>
<rect x="132.73" y="280" width="5" height="3.6" fill="#ff0000"/>
<rect x="140.24" y="280" width="5" height="5.0" fill="#ff0000"/>
<rect x="147.75" y="280" width="5" height="7.5" fill="#ff0000"/>
<rect x="155.25" y="280" width="5" height="9.9" fill="#ff0000"/>
<rect x="162.75" y="280" width="5" height="12.0" fill="#ff0000"/>
<rect x="170.26" y="280" width="5" height="12.7" fill="#ff0000"/>
<rect x="177.77" y="280" width="5" height="14.4" fill="#ff0000"/>
<rect x="185.27" y="280" width="5" height="14.9" fill="#ff0000"/>
<rect x="192.78" y="280" width="5" height="13.9" fill="#ff0000"/>
<rect x="200.28" y="280" width="5" height="12.0" fill="#ff0000"/>
<rect x="207.78" y="280" width="5" height="9.1" fill="#ff0000"/>
<rect x="215.29" y="280" width="5" height="7.2" fill="#ff0000"/>
<rect x="222.80" y="280" width="5" height="6.7" fill="#ff0000"/>
<rect x="230.30" y="280" width="5" height="6.7" fill="#ff0000"/>
<rect x="237.81" y="280" width="5" height="7.9" fill="#ff0000"/>
<rect x="245.31" y="280" width="5" height="7.9" fill="#ff0000"/>
<rect x="252.81" y="280" width="5" height="6.9" fill="#ff0000"/>
<rect x="260.32" y="280" width="5" height="5.5" fill="#ff0000"/>
<rect x="267.82" y="280" width="5" height="2.4" fill="#ff0000"/>
<rect x="275.33" y="280" width="5" height="0.5" fill="#ff0000"/>
<rect x="282.83" y="277.6" width="5" height="2.4" fill="#00ff00"/>
<rect x="290.34" y="275.4" width="5" height="4.6" fill="#00ff00"/>
<rect x="297.84" y="272.3" width="5" height="7.7" fill="#00ff00"/>
<rect x="305.35" y="270.4" width="5" height="9.6" fill="#00ff00"/>
<rect x="312.85" y="270.4" width="5" height="9.6" fill="#00ff00"/>
<rect x="320.36" y="271.8" width="5" height="8.2" fill="#00ff00"/>
<rect x="327.86" y="273.5" width="5" height="6.5" fill="#00ff00"/>
<rect x="335.37" y="272.8" width="5" height="7.2" fill="#00ff00"/>
<rect x="342.88" y="273.0" width="5" height="7.0" fill="#00ff00"/>
<rect x="350.38" y="275.4" width="5" height="4.6" fill="#00ff00"/>
<rect x="365.39" y="280" width="5" height="3.8" fill="#ff0000"/>
<rect x="372.89" y="280" width="5" height="5.5" fill="#ff0000"/>
<rect x="380.40" y="280" width="5" height="6.7" fill="#ff0000"/>
<rect x="387.90" y="280" width="5" height="3.8" fill="#ff0000"/>
<rect x="395.41" y="280" width="5" height="0.8" fill="#ff0000"/>
<rect x="402.91" y="280" width="5" height="0.8" fill="#ff0000"/>
<rect x="410.42" y="280" width="5" height="0.4" fill="#ff0000"/>
<rect x="417.92" y="279.7" width="5" height="0.3" fill="#00ff00"/>
<rect x="425.43" y="279.3" width="5" height="0.7" fill="#00ff00"/>
<rect x="432.93" y="278.8" width="5" height="1.2" fill="#00ff00"/>
<rect x="440.44" y="278.6" width="5" height="1.4" fill="#00ff00"/>
<rect x="447.94" y="278.3" width="5" height="1.7" fill="#00ff00"/>
<rect x="455.45" y="276.4" width="5" height="3.6" fill="#00ff00"/>
<rect x="462.95" y="273.5" width="5" height="6.5" fill="#00ff00"/>
<rect x="470.46" y="272.8" width="5" height="7.2" fill="#00ff00"/>
<rect x="477.96" y="273.5" width="5" height="6.5" fill="#00ff00"/>
<rect x="485.47" y="274.2" width="5" height="5.8" fill="#00ff00"/>
<rect x="492.97" y="275.4" width="5" height="4.6" fill="#00ff00"/>
<rect x="500.48" y="279.2" width="5" height="0.8" fill="#00ff00"/>
<rect x="507.98" y="280" width="5" height="2.4" fill="#ff0000"/>
<rect x="515.49" y="280" width="5" height="3.6" fill="#ff0000"/>
<rect x="523.00" y="280" width="5" height="5.5" fill="#ff0000"/>
<rect x="530.50" y="280" width="5" height="7.2" fill="#ff0000"/>
<rect x="538.00" y="280" width="5" height="7.9" fill="#ff0000"/>
<rect x="545.51" y="280" width="5" height="8.4" fill="#ff0000"/>
<rect x="553.01" y="280" width="5" height="7.5" fill="#ff0000"/>
<rect x="560.52" y="280" width="5" height="7.9" fill="#ff0000"/>
<rect x="568.02" y="280" width="5" height="7.2" fill="#ff0000"/>
<rect x="575.53" y="280" width="5" height="8.7" fill="#ff0000"/>
<rect x="583.03" y="280" width="5" height="9.4" fill="#ff0000"/>
<rect x="590.54" y="280" width="5" height="9.3" fill="#ff0000"/>
<rect x="598.04" y="280" width="5" height="7.8" fill="#ff0000"/>
<rect x="605.55" y="280" width="5" height="7.8" fill="#ff0000"/>
<rect x="613.05" y="280" width="5" height="7.8" fill="#ff0000"/>
<rect x="620.56" y="280" width="5" height="6.0" fill="#ff0000"/>
<rect x="628.06" y="280" width="5" height="5.3" fill="#ff0000"/>
<rect x="635.57" y="280" width="5" height="3.5" fill="#ff0000"/>
<rect x="643.07" y="280" width="5" height="1.2" fill="#ff0000"/>
<rect x="650.58" y="278.3" width="5" height="1.7" fill="#00ff00"/>
<rect x="658.08" y="277.1" width="5" height="2.9" fill="#00ff00"/>
<rect x="665.59" y="275.9" width="5" height="4.1" fill="#00ff00"/>
<rect x="673.09" y="275.9" width="5" height="4.1" fill="#00ff00"/>
<rect x="680.60" y="274.7" width="5" height="5.3" fill="#00ff00"/>
<rect x="688.11" y="271.8" width="5" height="8.2" fill="#00ff00"/>
<rect x="695.61" y="272.3" width="5" height="7.7" fill="#00ff00"/>
<rect x="703.12" y="273.0" width="5" height="7.0" fill="#00ff00"/>
<rect x="710.62" y="274.7" width="5" height="5.3" fill="#00ff00"/>
<rect x="718.12" y="277.1" width="5" height="2.9" fill="#00ff00"/>
<rect x="725.63" y="279.7" width="5" height="0.3" fill="#00ff00"/>
<rect x="733.13" y="279.3" width="5" height="0.7" fill="#00ff00"/>
<rect x="740.64" y="279.3" width="5" height="0.7" fill="#00ff00"/>
<rect x="748.14" y="279.7" width="5" height="0.3" fill="#00ff00"/>
<rect x="755.65" y="280" width="5" height="0.4" fill="#ff0000"/>
<rect x="770.66" y="278.6" width="5" height="1.4" fill="#00ff00"/>
<rect x="778.16" y="279.0" width="5" height="1.0" fill="#00ff00"/>
<rect x="785.67" y="279.0" width="5" height="1.0" fill="#00ff00"/>
<rect x="793.17" y="278.3" width="5" height="1.7" fill="#00ff00"/>
<rect x="800.68" y="277.4" width="5" height="2.6" fill="#00ff00"/>
<rect x="808.18" y="276.2" width="5" height="3.8" fill="#00ff00"/>
<rect x="815.69" y="277.4" width="5" height="2.6" fill="#00ff00"/>
<rect x="823.19" y="275.2" width="5" height="4.8" fill="#00ff00"/>
<rect x="830.70" y="272.8" width="5" height="7.2" fill="#00ff00"/>
<rect x="838.20" y="271.6" width="5" height="8.4" fill="#00ff00"/>
<rect x="845.71" y="270.6" width="5" height="9.4" fill="#00ff00"/>
<rect x="853.21" y="270.6" width="5" height="9.4" fill="#00ff00"/>
<rect x="860.72" y="270.1" width="5" height="9.9" fill="#00ff00"/>
<rect x="868.22" y="270.1" width="5" height="9.9" fill="#00ff00"/>
<rect x="875.73" y="270.1" width="5" height="9.9" fill="#00ff00"/>
<rect x="883.24" y="271.1" width="5" height="8.9" fill="#00ff00"/>
<rect x="890.74" y="271.6" width="5" height="8.4" fill="#00ff00"/>
<rect x="898.25" y="271.6" width="5" height="8.4" fill="#00ff00"/>
<rect x="905.75" y="271.6" width="5" height="8.4" fill="#00ff00"/>
<rect x="913.25" y="271.6" width="5" height="8.4" fill="#00ff00"/>
<rect x="920.76" y="271.8" width="5" height="8.2" fill="#00ff00"/>
<rect x="928.26" y="273.0" width="5" height="7.0" fill="#00ff00"/>
<rect x="935.77" y="274.2" width="5" height="5.8" fill="#00ff00"/>
<rect x="943.27" y="276.2" width="5" height="3.8" fill="#00ff00"/>
<rect x="950.78" y="276.4" width="5" height="3.6" fill="#00ff00"/>
<rect x="958.28" y="276.4" width="5" height="3.6" fill="#00ff00"/>
<path d="M4.8,271.1 C6.4,270.5 11.2,268.7 14.4,267.5 C17.6,266.2 20.4,265.1 24.0,263.8 C27.6,262.6 32.1,261.0 36.1,259.8 C40.1,258.6 44.1,257.6 48.1,256.6 C52.1,255.7 56.1,254.9 60.1,254.2 C64.1,253.5 68.1,252.9 72.1,252.5 C76.1,252.1 80.1,251.9 84.1,251.8 C88.1,251.7 92.1,251.6 96.2,251.8 C100.2,252.0 104.2,252.5 108.2,253.0 C112.2,253.5 115.8,254.1 120.2,254.7 C124.6,255.3 130.6,256.0 134.6,256.6 C138.6,257.3 140.6,257.6 144.2,258.6 C147.8,259.6 152.2,261.2 156.2,262.6 C160.3,264.1 164.3,265.7 168.3,267.5 C172.3,269.2 176.3,271.2 180.3,273.0 C184.3,274.8 189.1,277.0 192.3,278.3 C195.5,279.6 196.7,279.7 199.5,280.7 C202.3,281.7 205.5,283.1 209.1,284.3 C212.7,285.5 217.1,286.8 221.2,287.9 C225.2,289.0 228.4,290.1 233.2,291.0 C238.0,291.9 245.2,292.5 250.0,293.4 C254.8,294.3 258.0,295.5 262.0,296.3 C266.0,297.1 270.4,297.9 274.0,298.0 C277.6,298.1 280.4,297.5 283.7,297.0 C286.9,296.5 290.1,295.9 293.3,295.1 C296.5,294.3 299.7,293.0 302.9,292.0 C306.1,291.0 309.3,290.0 312.5,289.1 C315.7,288.2 318.9,287.5 322.1,286.7 C325.3,285.9 328.5,285.1 331.7,284.3 C334.9,283.5 338.1,282.6 341.3,281.9 C344.6,281.2 347.8,280.5 351.0,280.2 C354.2,279.9 357.4,279.9 360.6,280.2 C363.8,280.5 366.6,281.2 370.2,281.9 C373.8,282.6 378.6,283.7 382.2,284.3 C385.8,284.9 388.2,285.2 391.8,285.5 C395.4,285.8 399.4,286.0 403.8,286.2 C408.3,286.4 413.5,286.5 418.3,286.4 C423.1,286.4 427.5,286.2 432.7,286.0 C437.9,285.7 445.1,285.2 449.5,284.8 C453.9,284.3 456.3,283.7 459.1,283.1 C461.9,282.5 463.5,281.8 466.3,281.2 C469.2,280.5 472.4,279.7 476.0,279.0 C479.6,278.3 484.0,277.6 488.0,277.1 C492.0,276.5 496.4,275.9 500.0,275.9 C503.6,275.9 505.6,276.6 509.6,277.1 C513.6,277.5 519.6,277.9 524.0,278.8 C528.4,279.6 532.1,281.1 536.1,282.4 C540.1,283.6 544.5,285.1 548.1,286.2 C551.7,287.3 554.1,288.0 557.7,289.1 C561.3,290.2 565.7,291.5 569.7,292.7 C573.7,293.9 578.1,295.3 581.7,296.3 C585.3,297.3 588.1,297.9 591.3,298.7 C594.6,299.5 597.0,300.1 601.0,301.1 C605.0,302.1 610.6,303.7 615.4,304.7 C620.2,305.7 625.8,306.6 629.8,307.1 C633.8,307.6 636.2,307.8 639.4,307.8 C642.6,307.8 645.8,307.4 649.0,307.1 C652.2,306.8 655.4,306.2 658.7,305.9 C661.9,305.6 665.1,305.6 668.3,305.2 C671.5,304.8 675.1,304.0 677.9,303.5 C680.7,303.0 682.7,302.8 685.1,302.3 C687.5,301.8 689.9,301.0 692.3,300.4 C694.7,299.8 697.1,299.3 699.5,298.7 C701.9,298.1 704.3,297.5 706.7,297.0 C709.1,296.5 711.5,295.9 713.9,295.6 C716.3,295.2 718.8,295.1 721.2,294.9 C723.6,294.7 725.6,294.5 728.4,294.4 C731.2,294.3 734.4,294.1 738.0,294.1 C741.6,294.2 745.6,294.6 750.0,294.6 C754.4,294.7 760.4,294.5 764.4,294.4 C768.4,294.3 770.4,294.1 774.0,293.9 C777.6,293.7 782.1,293.6 786.1,293.4 C790.1,293.2 794.1,293.0 798.1,292.7 C802.1,292.4 806.1,292.0 810.1,291.5 C814.1,291.0 818.5,290.4 822.1,289.8 C825.7,289.2 828.5,288.4 831.7,287.6 C834.9,286.8 838.1,285.9 841.3,285.0 C844.6,284.1 847.8,283.1 851.0,282.1 C854.2,281.2 857.4,280.2 860.6,279.2 C863.8,278.3 867.0,277.3 870.2,276.3 C873.4,275.4 876.6,274.4 879.8,273.5 C883.0,272.5 886.2,271.5 889.4,270.6 C892.6,269.6 895.8,268.7 899.0,267.7 C902.2,266.7 905.4,265.5 908.7,264.6 C911.9,263.6 915.1,262.7 918.3,261.9 C921.5,261.1 924.7,260.4 927.9,259.8 C931.1,259.1 934.3,258.4 937.5,257.8 C940.7,257.3 944.3,256.8 947.1,256.4 C949.9,256.0 952.1,255.8 954.3,255.4 C956.6,255.1 959.5,254.6 960.6,254.5" fill="none" stroke="#f5781e" stroke-width="1.2"/>
<path d="M0.0,263.1 C1.2,262.9 4.8,262.2 7.2,261.9 C9.6,261.6 11.6,261.7 14.4,261.4 C17.2,261.2 20.4,261.0 24.0,260.2 C27.6,259.4 32.1,258.4 36.1,256.6 C40.1,254.9 44.5,251.7 48.1,249.9 C51.7,248.1 55.3,246.6 57.7,245.8 C60.1,245.1 60.5,245.1 62.5,245.3 C64.5,245.5 66.9,246.3 69.7,247.0 C72.5,247.8 75.7,249.2 79.3,249.9 C82.9,250.6 87.7,250.6 91.3,251.3 C95.0,252.1 97.8,253.3 101.0,254.2 C104.2,255.2 107.4,256.4 110.6,257.1 C113.8,257.8 117.0,257.9 120.2,258.3 C123.4,258.7 126.6,258.9 129.8,259.5 C133.0,260.1 136.2,260.8 139.4,261.9 C142.6,263.0 145.8,264.5 149.0,266.2 C152.2,268.0 155.4,270.3 158.7,272.3 C161.9,274.3 165.1,276.3 168.3,278.3 C171.5,280.3 174.7,282.4 177.9,284.3 C181.1,286.2 184.3,288.3 187.5,289.8 C190.7,291.3 193.9,292.6 197.1,293.2 C200.3,293.8 203.5,293.4 206.7,293.4 C209.9,293.4 213.1,293.0 216.3,293.2 C219.6,293.4 222.8,293.8 226.0,294.6 C229.2,295.4 231.6,296.9 235.6,298.0 C239.6,299.1 245.6,300.3 250.0,301.1 C254.4,301.9 258.0,303.2 262.0,302.8 C266.0,302.4 270.4,300.1 274.0,298.7 C277.6,297.3 280.4,295.7 283.7,294.4 C286.9,293.1 290.1,292.4 293.3,290.8 C296.5,289.2 300.1,286.4 302.9,284.8 C305.7,283.1 307.3,281.6 310.1,280.7 C312.9,279.7 316.5,279.3 319.7,279.0 C322.9,278.7 326.1,279.3 329.3,279.0 C332.5,278.7 336.1,277.7 338.9,277.1 C341.7,276.5 343.8,275.6 346.2,275.4 C348.6,275.2 351.0,275.0 353.4,275.9 C355.8,276.7 357.8,279.0 360.6,280.7 C363.4,282.4 366.6,284.2 370.2,286.0 C373.8,287.8 378.6,291.0 382.2,291.5 C385.8,292.0 389.0,290.0 391.8,289.1 C394.6,288.2 394.6,286.7 399.0,286.2 C403.4,285.7 412.7,286.5 418.3,286.2 C423.9,285.9 427.5,284.9 432.7,284.3 C437.9,283.6 445.1,283.4 449.5,282.4 C453.9,281.4 456.3,279.5 459.1,278.3 C461.9,277.1 463.5,276.1 466.3,275.1 C469.2,274.2 472.4,273.4 476.0,272.7 C479.6,272.1 484.0,270.9 488.0,271.1 C492.0,271.2 496.4,272.3 500.0,273.5 C503.6,274.6 505.6,276.0 509.6,277.8 C513.6,279.6 519.6,282.4 524.0,284.3 C528.4,286.2 532.1,287.7 536.1,289.1 C540.1,290.5 544.5,291.7 548.1,292.7 C551.7,293.7 554.1,294.2 557.7,295.1 C561.3,296.0 565.7,296.6 569.7,298.0 C573.7,299.4 578.1,302.1 581.7,303.5 C585.3,305.0 588.1,306.0 591.3,306.6 C594.6,307.3 597.0,306.8 601.0,307.6 C605.0,308.4 610.6,310.7 615.4,311.4 C620.2,312.2 625.8,312.3 629.8,312.2 C633.8,312.0 636.2,311.6 639.4,310.7 C642.6,309.8 645.8,307.8 649.0,306.6 C652.2,305.4 655.4,304.4 658.7,303.5 C661.9,302.6 665.1,301.8 668.3,301.1 C671.5,300.4 675.1,300.2 677.9,299.4 C680.7,298.6 682.7,297.4 685.1,296.3 C687.5,295.2 689.9,293.6 692.3,292.7 C694.7,291.8 697.1,291.5 699.5,291.0 C701.9,290.6 704.3,290.2 706.7,290.0 C709.1,289.9 711.5,290.0 713.9,290.3 C716.3,290.6 718.8,291.2 721.2,292.0 C723.6,292.8 725.6,294.8 728.4,295.1 C731.2,295.4 734.4,293.7 738.0,293.7 C741.6,293.6 745.6,294.4 750.0,294.6 C754.4,294.9 760.8,295.3 764.4,295.1 C768.0,294.9 768.8,293.5 771.6,293.2 C774.4,292.8 778.0,293.1 781.2,292.9 C784.5,292.8 787.7,292.7 790.9,292.2 C794.1,291.8 797.3,291.1 800.5,290.3 C803.7,289.5 807.1,287.9 810.1,287.4 C813.1,286.9 815.7,287.7 818.5,287.2 C821.3,286.6 824.3,285.4 826.9,284.3 C829.5,283.1 831.3,281.6 834.1,280.2 C836.9,278.8 840.5,277.2 843.8,275.9 C847.0,274.5 850.2,273.5 853.4,272.3 C856.6,271.0 859.8,269.4 863.0,268.2 C866.2,267.0 869.4,266.0 872.6,265.0 C875.8,264.0 879.0,263.0 882.2,262.2 C885.4,261.4 888.6,261.0 891.8,260.2 C895.0,259.4 898.2,258.4 901.4,257.4 C904.6,256.4 907.9,255.1 911.1,254.2 C914.3,253.4 917.5,252.7 920.7,252.3 C923.9,251.9 927.5,251.7 930.3,251.6 C933.1,251.4 935.1,251.2 937.5,251.3 C939.9,251.5 942.3,252.4 944.7,252.5 C947.1,252.7 949.3,252.3 951.9,252.1 C954.6,251.8 959.1,251.3 960.6,251.1" fill="none" stroke="#2a44f0" stroke-width="1.2"/>
<path d="M0.0,346.2 L7.2,350.3 L21.6,351.1 L30.0,349.4 L38.5,343.8 L48.1,342.2 L60.1,342.2 L68.5,349.4 L75.0,352.3 L82.9,348.7 L90.1,351.5 L97.4,351.1 L105.3,355.1 L113.0,352.7 L120.2,351.8 L127.4,352.7 L134.6,351.5 L144.2,357.1 L153.8,360.7 L165.9,363.1 L171.9,363.6 L180.3,367.2 L194.7,365.5 L209.1,360.7 L218.8,361.2 L226.0,363.8 L232.0,365.0 L240.4,369.8 L247.6,366.9 L250.0,366.7 L256.0,365.0 L263.2,365.2 L270.4,360.0 L277.6,358.8 L285.6,354.7 L292.8,354.7 L300.5,349.9 L307.7,349.4 L314.9,352.3 L323.3,355.4 L330.5,356.3 L337.7,351.1 L346.2,352.0 L353.4,357.1 L360.6,365.0 L367.8,365.0 L375.0,364.3 L382.2,365.0 L390.6,357.5 L397.8,353.9 L405.8,358.8 L413.5,357.5 L420.7,359.5 L427.9,356.6 L450.7,356.6 L457.9,351.8 L465.1,349.4 L472.4,350.6 L480.3,352.7 L488.0,352.3 L495.2,354.2 L500.0,358.3 L503.6,361.9 L510.8,363.1 L518.0,361.4 L525.2,363.1 L533.7,365.0 L540.9,365.5 L548.1,366.4 L555.3,364.0 L563.0,366.4 L570.4,366.0 L578.1,370.3 L585.3,371.5 L593.0,370.3 L600.5,367.6 L607.9,371.0 L615.4,371.5 L623.1,368.4 L630.5,369.6 L638.0,366.2 L645.4,360.7 L652.9,360.9 L660.6,361.2 L668.0,361.2 L675.5,363.3 L682.9,357.8 L690.4,352.3 L698.1,358.5 L705.5,358.0 L713.0,360.7 L720.4,363.1 L727.9,366.7 L735.6,359.5 L743.0,360.2 L750.0,362.4 L757.9,362.6 L765.4,361.9 L773.1,358.3 L780.5,361.2 L788.0,360.9 L795.4,358.5 L802.9,357.3 L810.6,355.4 L818.0,359.7 L825.5,354.7 L832.9,351.1 L840.4,350.6 L848.1,349.4 L855.5,349.9 L863.0,347.5 L870.4,347.0 L877.9,345.8 L885.6,346.2 L893.0,345.5 L900.5,343.4 L907.9,342.2 L915.4,341.9 L923.1,341.4 L930.5,342.6 L938.0,342.2 L945.4,345.5 L952.9,342.6 L960.6,341.4" fill="none" stroke="#2a44f0" stroke-width="1.1" stroke-linejoin="round"/>
<rect x="5" y="5" width="79" height="21" fill="#000000" fill-opacity="0.6"/>
<rect x="5" y="5" width="2.2" height="21" fill="#2a8a74"/>
<text x="15.6" y="19" font-size="11" font-weight="bold" fill="#ffffff">USD/CAD</text>
<rect x="5" y="32" width="90" height="21" fill="#000000" fill-opacity="0.6"/>
<rect x="5" y="32" width="2.2" height="21" fill="#0000ff"/>
<text x="15.6" y="46" font-size="11" font-weight="bold" fill="#ffffff">SMA (200,0)</text>
<rect x="5" y="249" width="109" height="21" fill="#000000" fill-opacity="0.6"/>
<rect x="5" y="249" width="2.2" height="21" fill="#0000ff"/>
<text x="15.6" y="263" font-size="11" font-weight="bold" fill="#ffffff">MACD (12,26,9)</text>
<rect x="5" y="327" width="110" height="21" fill="#000000" fill-opacity="0.6"/>
<rect x="5" y="327" width="2.2" height="21" fill="#00ff00"/>
<text x="15.6" y="341" font-size="11" font-weight="bold" fill="#ffffff">RSI (14,70,30,1)</text>
<text x="953.5" y="53.6" font-size="19.5" font-weight="bold" fill="#ea1c5c">X</text>
<text x="811" y="340.2" font-size="18" font-weight="bold" fill="#ea1c5c">RSI &gt; 70</text>
<ellipse cx="942" cy="348.3" rx="47.5" ry="20.5" fill="none" stroke="#ea1c5c" stroke-width="2.6"/>
<line x1="492" y1="238.5" x2="512" y2="238.5" stroke="#6b6565" stroke-width="1"/>
<line x1="492" y1="240.5" x2="512" y2="240.5" stroke="#6b6565" stroke-width="1"/>
<line x1="492" y1="242.5" x2="512" y2="242.5" stroke="#6b6565" stroke-width="1"/>
<line x1="492" y1="316.5" x2="512" y2="316.5" stroke="#6b6565" stroke-width="1"/>
<line x1="492" y1="318.5" x2="512" y2="318.5" stroke="#6b6565" stroke-width="1"/>
<line x1="492" y1="320.5" x2="512" y2="320.5" stroke="#6b6565" stroke-width="1"/>
<text x="1012.7" y="17.9" font-size="11" fill="#555555">1.3800</text>
<text x="1012.7" y="48.0" font-size="11" fill="#555555">1.3700</text>
<text x="1012.7" y="108.3" font-size="11" fill="#555555">1.3500</text>
<text x="1012.7" y="138.4" font-size="11" fill="#555555">1.3400</text>
<text x="1012.7" y="168.5" font-size="11" fill="#555555">1.3300</text>
<text x="1012.7" y="198.6" font-size="11" fill="#555555">1.3200</text>
<text x="1012.7" y="228.7" font-size="11" fill="#555555">1.3100</text>
<text x="1012.5" y="284.2" font-size="11" fill="#555555">0.0000</text>
<text x="1012.5" y="361.3" font-size="11" fill="#555555">50.0000</text>
<text x="1012.5" y="394" font-size="11" fill="#555555">0.0000</text>
<path d="M1008.6,74.2 L1015.2,67.2 Q1015.9,66.5 1017,66.5 H1061.8 Q1063.3,66.5 1063.3,68 V80.3 Q1063.3,81.8 1061.8,81.8 H1017 Q1015.9,81.8 1015.2,81.1 Z" fill="#2f4d78"/>
<text x="1013.8" y="78.7" font-size="11" font-weight="bold" fill="#ffffff">1.359930</text>
<text x="0.3" y="408" font-size="11" font-weight="bold" fill="#666666">Mar</text>
<text x="105.2" y="408" font-size="11" fill="#888888" text-anchor="middle">20</text>
<text x="180.3" y="408" font-size="11" font-weight="bold" fill="#666666" text-anchor="middle">Apr</text>
<text x="255.3" y="408" font-size="11" fill="#888888" text-anchor="middle">17</text>
<text x="330.4" y="408" font-size="11" font-weight="bold" fill="#666666" text-anchor="middle">May</text>
<text x="405.4" y="408" font-size="11" fill="#888888" text-anchor="middle">15</text>
<text x="503.0" y="408" font-size="11" font-weight="bold" fill="#666666" text-anchor="middle">Jun</text>
<text x="593.0" y="408" font-size="11" fill="#888888" text-anchor="middle">19</text>
<text x="668.1" y="408" font-size="11" font-weight="bold" fill="#666666" text-anchor="middle">Jul</text>
<text x="743.1" y="408" font-size="11" fill="#888888" text-anchor="middle">17</text>
<text x="825.7" y="408" font-size="11" font-weight="bold" fill="#666666" text-anchor="middle">Aug</text>
<text x="908.2" y="408" font-size="11" fill="#888888" text-anchor="middle">16</text>
<text x="998.3" y="408" font-size="11" font-weight="bold" fill="#666666" text-anchor="middle">Sep</text>
</svg></body></html>
